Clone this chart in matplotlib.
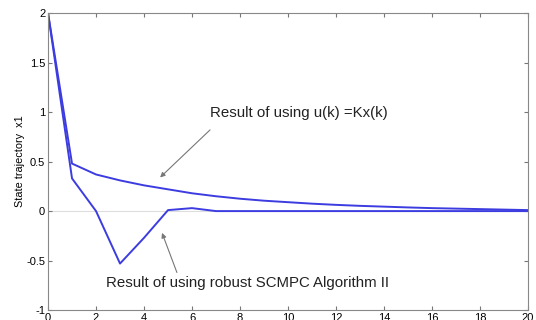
import matplotlib
matplotlib.use("Agg")
import matplotlib.pyplot as plt

k = list(range(0, 21))
x1_kx = [2.0, 0.48, 0.37, 0.31, 0.26, 0.22, 0.18, 0.15, 0.125, 0.105, 0.09,
         0.075, 0.063, 0.053, 0.045, 0.037, 0.03, 0.025, 0.02, 0.015, 0.01]
x1_scmpc = [2.0, 0.33, 0.0, -0.53, -0.27, 0.01, 0.03, 0.0, 0.0, 0.0, 0.0,
            0.0, 0.0, 0.0, 0.0, 0.0, 0.0, 0.0, 0.0, 0.0, 0.0]
xticks = list(range(0, 21, 2))
yticks = [-1, -0.5, 0, 0.5, 1, 1.5, 2]
ytick_labels = ["-1", "-0.5", "0", "0.5", "1", "1.5", "2"]

plt.rcParams['font.family'] = ['Liberation Sans', 'DejaVu Sans']
fig = plt.figure(figsize=(5.36, 3.2), dpi=100)
ax = fig.add_axes([0.0896, 0.031, 0.8955, 0.928])

ax.axhline(0, color='#dddddd', lw=0.8, zorder=0)
col = '#3c3ce0'
ax.plot(k, x1_kx, color=col, lw=1.4)
ax.plot(k, x1_scmpc, color=col, lw=1.4)

ax.set_xlim(0, 20)
ax.set_ylim(-1, 2)
ax.set_xticks(xticks)
ax.set_yticks(yticks)
ax.set_yticklabels(ytick_labels)
ax.tick_params(direction='in', top=True, right=True, labelsize=8, length=3,
               color='#777777', pad=2)
for s in ax.spines.values():
    s.set_color('#888888')
    s.set_linewidth(0.8)
ax.set_ylabel('State trajectory  x1', fontsize=7.8, labelpad=1)

arrow = dict(arrowstyle='-|>', color='#777777', lw=0.8,
             shrinkA=0, shrinkB=0, mutation_scale=7)
ax.text(10.44, 0.99, 'Result of using u(k) =Kx(k)', ha='center', va='center',
        fontsize=10.8, color='#222222')
ax.annotate('', xy=(4.67, 0.34), xytext=(6.75, 0.82), arrowprops=arrow)
ax.text(8.33, -0.73, 'Result of using robust SCMPC Algorithm II', ha='center',
        va='center', fontsize=10.8, color='#222222')
ax.annotate('', xy=(4.75, -0.22), xytext=(5.37, -0.62), arrowprops=arrow)

fig.savefig('out.png', dpi=100)
